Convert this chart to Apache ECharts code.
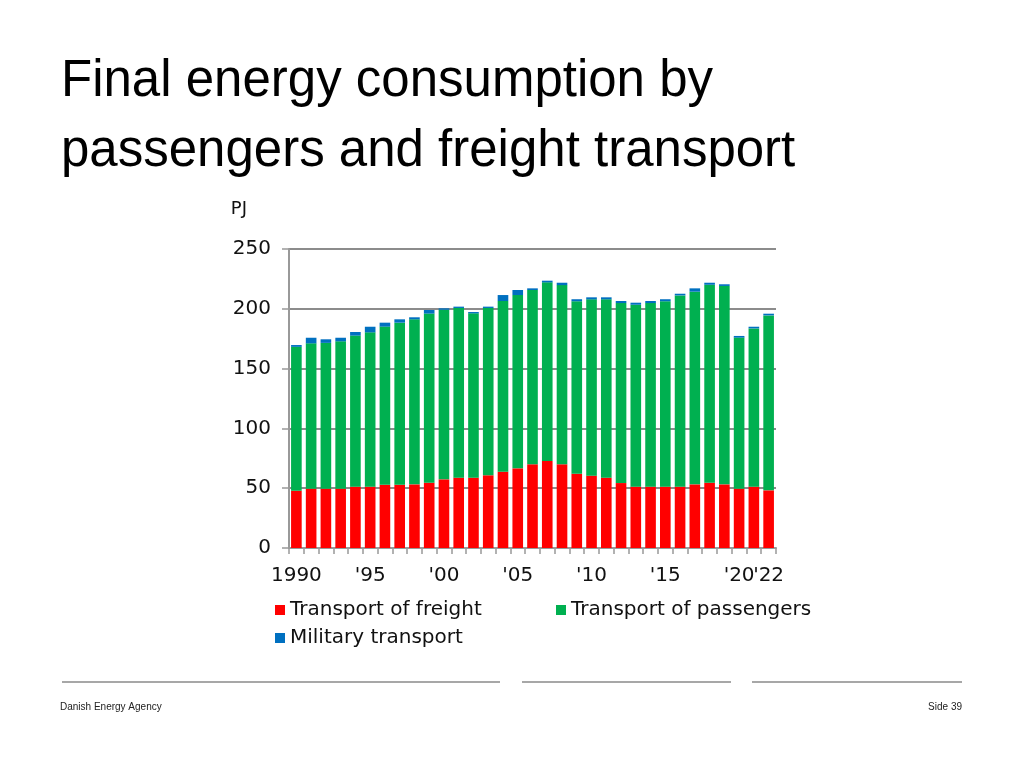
<!DOCTYPE html>
<html>
<head>
<meta charset="utf-8">
<script src="https://cdn.jsdelivr.net/npm/echarts@6/dist/echarts.min.js"></script>
<style>
html,body{margin:0;padding:0;background:#fff;}
#chart{width:1024px;height:768px;}
</style>
</head>
<body>
<div id="chart"></div>
<script>
const categories = ['1990','1991','1992','1993','1994','1995','1996','1997','1998','1999',
  '2000','2001','2002','2003','2004','2005','2006','2007','2008','2009',
  '2010','2011','2012','2013','2014','2015','2016','2017','2018','2019',
  '2020','2021','2022'];
const tickLabels = ['1990','','','','',"'95",'','','','',
  "'00",'','','','',"'05",'','','','',
  "'10",'','','','',"'15",'','','','',
  "'20",'',"'22"];
const freight = [47.9,49.6,49.6,49.6,51.3,51.3,52.9,52.9,53.2,54.6,
  57.4,58.8,58.8,60.8,63.8,66.6,70.0,72.7,70.0,62.1,
  60.5,58.8,54.3,51.3,51.3,51.3,51.3,53.2,54.6,53.2,
  49.6,51.3,48.2];
const passengers = [120.3,121.5,121.9,123.2,126.3,129.0,132.2,135.5,138.0,141.4,
  141.8,141.9,137.4,139.9,142.7,144.9,145.7,149.4,149.8,144.2,
  147.4,149.1,150.5,152.1,153.5,155.0,159.9,161.1,165.5,165.9,
  126.3,132.3,146.3];
const military = [1.5,4.7,3.0,3.0,3.0,4.7,3.3,2.8,1.7,3.0,
  1.2,1.1,1.1,1.1,5.0,4.2,1.4,1.4,2.0,1.7,
  1.7,1.7,1.7,1.7,1.7,1.7,1.4,2.8,1.7,1.4,
  1.4,1.4,1.4];
const yTicks = {min: 0, max: 250, interval: 50};

const axisFont = 'DejaVu Sans, Verdana, sans-serif';
const chart = echarts.init(document.getElementById('chart'));
const legendBase = {
  orient: 'horizontal', icon: 'rect', itemWidth: 10, itemHeight: 10,
  textStyle: {fontFamily: axisFont, fontSize: 20, color: '#111'},
  selectedMode: false, padding: 0
};
chart.setOption({
  animation: false,
  backgroundColor: '#fff',
  title: {
    text: 'Final energy consumption by\npassengers and freight transport',
    left: 61, top: 47, padding: 0,
    textStyle: {fontFamily: 'Liberation Sans, Arial, sans-serif', fontSize: 51, lineHeight: 70, fontWeight: 'normal', color: '#000'}
  },
  grid: {left: 289, right: 248, top: 249, bottom: 220, containLabel: false},
  legend: [
    Object.assign({}, legendBase, {data: ['Transport of freight'], left: 275, top: 600}),
    Object.assign({}, legendBase, {data: ['Transport of passengers'], left: 556, top: 600}),
    Object.assign({}, legendBase, {data: ['Military transport'], left: 275, top: 628})
  ],
  xAxis: {
    type: 'category', data: categories,
    axisLine: {lineStyle: {color: '#999', width: 2}},
    axisTick: {show: true, interval: 0, length: 6, lineStyle: {color: '#999', width: 1.5}},
    axisLabel: {interval: 0, margin: 18, fontFamily: axisFont, fontSize: 20, color: '#111',
      formatter: (v, i) => tickLabels[i]}
  },
  yAxis: {
    type: 'value', min: yTicks.min, max: yTicks.max, interval: yTicks.interval,
    name: 'PJ', nameLocation: 'end', nameGap: 31,
    nameTextStyle: {fontFamily: axisFont, fontSize: 18, color: '#111', align: 'right', padding: [0, 42, 0, 0]},
    axisLine: {show: true, lineStyle: {color: '#999', width: 2}},
    axisTick: {show: true, length: 7, lineStyle: {color: '#999', width: 1.5}},
    axisLabel: {margin: 18, fontFamily: axisFont, fontSize: 20, color: '#111'},
    splitLine: {show: true, lineStyle: {color: '#8c8c8c', width: 2}}
  },
  series: [
    {name: 'Transport of freight', type: 'bar', stack: 't', data: freight, barWidth: '72%', itemStyle: {color: '#ff0000'}},
    {name: 'Transport of passengers', type: 'bar', stack: 't', data: passengers, itemStyle: {color: '#00b050'}},
    {name: 'Military transport', type: 'bar', stack: 't', data: military, itemStyle: {color: '#0070c0'}}
  ],
  graphic: [
    {type: 'line', shape: {x1: 62, y1: 682, x2: 500, y2: 682}, style: {stroke: '#8a8a8a', lineWidth: 1.5}},
    {type: 'line', shape: {x1: 522, y1: 682, x2: 731, y2: 682}, style: {stroke: '#8a8a8a', lineWidth: 1.5}},
    {type: 'line', shape: {x1: 752, y1: 682, x2: 962, y2: 682}, style: {stroke: '#8a8a8a', lineWidth: 1.5}},
    {type: 'text', left: 60, top: 702, style: {text: 'Danish Energy Agency', fontFamily: 'Liberation Sans, Arial, sans-serif', fontSize: 10, fill: '#222'}},
    {type: 'text', right: 62, top: 702, style: {text: 'Side 39', fontFamily: 'Liberation Sans, Arial, sans-serif', fontSize: 10, fill: '#222'}}
  ]
});
</script>
</body>
</html>
